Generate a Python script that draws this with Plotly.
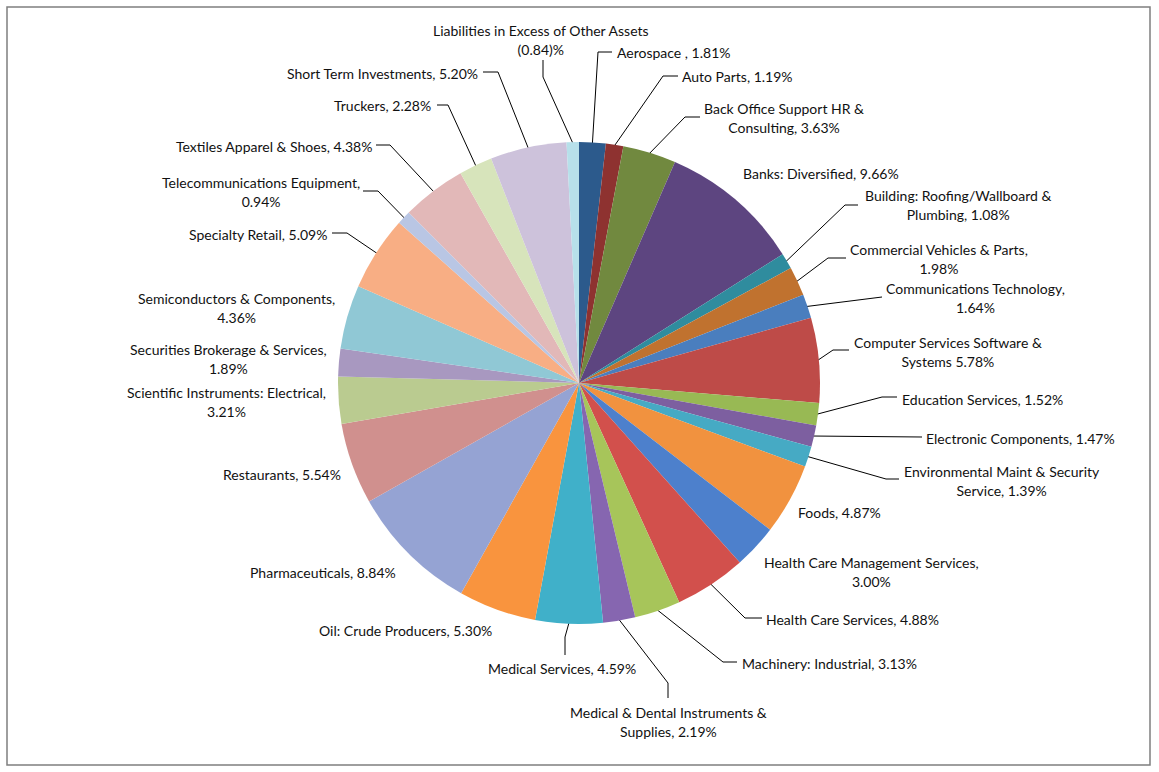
import plotly.graph_objects as go
import math

# ---------------- data ----------------
categories = [
    "Aerospace", "Auto Parts", "Back Office Support HR & Consulting", "Banks: Diversified",
    "Building: Roofing/Wallboard & Plumbing", "Commercial Vehicles & Parts", "Communications Technology",
    "Computer Services Software & Systems", "Education Services", "Electronic Components",
    "Environmental Maint & Security Service", "Foods", "Health Care Management Services",
    "Health Care Services", "Machinery: Industrial", "Medical & Dental Instruments & Supplies",
    "Medical Services", "Oil: Crude Producers", "Pharmaceuticals", "Restaurants",
    "Scientific Instruments: Electrical", "Securities Brokerage & Services", "Semiconductors & Components",
    "Specialty Retail", "Telecommunications Equipment", "Textiles Apparel & Shoes", "Truckers",
    "Short Term Investments", "Liabilities in Excess of Other Assets",
]
values = [1.81, 1.19, 3.63, 9.66, 1.08, 1.98, 1.64, 5.78, 1.52, 1.47, 1.39, 4.87, 3.00, 4.88,
          3.13, 2.19, 4.59, 5.30, 8.84, 5.54, 3.21, 1.89, 4.36, 5.09, 0.94, 4.38, 2.28, 5.20, -0.84]

# label text templates ({} -> formatted value), "\n" = line break
label_templates = [
    "Aerospace , {}", "Auto Parts, {}", "Back Office Support HR &\nConsulting, {}", "Banks: Diversified, {}",
    "Building: Roofing/Wallboard &\nPlumbing, {}", "Commercial Vehicles & Parts,\n{}",
    "Communications Technology,\n{}", "Computer Services Software &\nSystems {}", "Education Services, {}",
    "Electronic Components, {}", "Environmental Maint & Security\nService, {}", "Foods, {}",
    "Health Care Management Services,\n{}", "Health Care Services, {}", "Machinery: Industrial, {}",
    "Medical & Dental Instruments &\nSupplies, {}", "Medical Services, {}", "Oil: Crude Producers, {}",
    "Pharmaceuticals, {}", "Restaurants, {}", "Scientific Instruments: Electrical,\n{}",
    "Securities Brokerage & Services,\n{}", "Semiconductors & Components,\n{}", "Specialty Retail, {}",
    "Telecommunications Equipment,\n{}", "Textiles Apparel & Shoes, {}", "Truckers, {}",
    "Short Term Investments, {}", "Liabilities in Excess of Other Assets\n{}",
]

# ---------------- styles / layout ----------------
colors = [
    "#2C5A8C", "#8E3230", "#71893F", "#5D4580", "#2F8C9E", "#C0722F", "#4A7EBE", "#BE4B48",
    "#98B954", "#7D5FA0", "#46AAC4", "#F1923F", "#4D80CC", "#D2504C", "#A7C55A", "#8666B0",
    "#40B0C9", "#F9943E", "#95A3D3", "#D0908E", "#BACB90", "#A898C0", "#90C8D5", "#F8AE84",
    "#B9C6E4", "#E2B8B8", "#D7E4BB", "#CDC2DB", "#B7E0EA",
]

W, H = 1159, 772
CX, CY, R = 579, 383, 241

# label anchor: (x, y of first line centre, horizontal anchor)
label_pos = [
    (615, 52, "left"), (680, 76, "left"), (702, 108, "left"), (741, 173, "left"),
    (863, 195, "left"), (848, 249, "left"), (884, 288, "left"), (852, 342, "left"),
    (900, 399, "left"), (924, 438, "left"), (902, 471, "left"), (796, 512, "left"),
    (762, 562, "left"), (764, 619, "left"), (740, 663, "left"), (668, 712, "center"),
    (638, 668, "right"), (405, 630, "center"), (323, 572, "center"), (282, 474, "center"),
    (328, 392, "right"), (329, 349, "right"), (337, 298, "right"), (329, 234, "right"),
    (362, 182, "right"), (374, 146, "right"), (433, 105, "right"), (480, 73, "right"),
    (541, 30, "center"),
]
# leader line elbow and end points (None = no leader line)
leader_pts = [
    ((598, 52), (612, 52)), ((663, 76), (678, 76)), ((685, 117), (700, 117)), None,
    ((845, 205), (858, 205)), ((828, 258), (846, 258)), ((879, 297), (882, 297)),
    ((833, 350), (849, 350)), ((882, 397), (897, 397)), ((895, 437), (922, 437)),
    ((886, 479), (899, 479)), None, None, ((745, 618), (762, 618)), ((723, 662), (737, 662)),
    ((668, 683), (668, 698)), ((565, 637), (565, 655)), None, None, None, None, None, None,
    ((347, 233), (332, 233)), ((378, 191), (363, 191)), ((390, 145), (376, 145)),
    ((448, 105), (437, 105)), ((498, 72), (483, 72)), ((543, 77), (543, 60)),
]
FONT_SIZE = 14
LINE_GAP = 20                     # wanted distance between lines
PLOTLY_GAP = 1.3 * FONT_SIZE      # plotly's own line spacing
FONT = dict(family="Lato, 'Noto Sans', sans-serif", size=FONT_SIZE, color="#111111")
HIDE = '<span style="color:rgba(0,0,0,0)">{}</span>'


def fmt(v):
    return f"({abs(v):.2f})%" if v < 0 else f"{v:.2f}%"


abs_vals = [abs(v) for v in values]
total = sum(abs_vals)

fig = go.Figure()

fig.add_trace(go.Pie(
    labels=categories, values=abs_vals, sort=False, direction="clockwise", rotation=0,
    marker=dict(colors=colors, line=dict(width=0)), textinfo="none", hoverinfo="label+percent",
    showlegend=False,
    domain=dict(x=[(CX - R) / W, (CX + R) / W], y=[(H - CY - R) / H, (H - CY + R) / H]),
))

# leader lines from slice mid-angle to labels
lx, ly = [], []
cum = 0.0
for v, lp in zip(abs_vals, leader_pts):
    mid = (cum + v / 2) / total * 2 * math.pi
    cum += v
    if lp is None:
        continue
    sx = CX + (R - 1) * math.sin(mid)
    sy = CY - (R - 1) * math.cos(mid)
    (ex, ey), (tx, ty) = lp
    lx += [sx, ex, tx, None]
    ly += [sy, ey, ty, None]

fig.add_trace(go.Scatter(x=lx, y=ly, mode="lines", line=dict(color="black", width=1),
                         hoverinfo="skip", showlegend=False))

annotations = []
for tmpl, v, (x, y, anc) in zip(label_templates, values, label_pos):
    lines = tmpl.format(fmt(v)).split("\n")
    if len(lines) == 1:
        annotations.append(dict(x=x, y=y, xref="x", yref="y", text=lines[0], showarrow=False,
                                xanchor=anc, yanchor="middle", align="center", font=FONT))
    else:
        # two identical boxes (so both lines are centred on the same block);
        # first shows line 1, second shows line 2 shifted to get the wanted spacing
        yc = y + PLOTLY_GAP / 2
        t1 = lines[0] + "<br>" + HIDE.format(lines[1])
        t2 = HIDE.format(lines[0]) + "<br>" + lines[1]
        annotations.append(dict(x=x, y=yc, xref="x", yref="y", text=t1, showarrow=False,
                                xanchor=anc, yanchor="middle", align="center", font=FONT))
        annotations.append(dict(x=x, y=yc + (LINE_GAP - PLOTLY_GAP), xref="x", yref="y", text=t2,
                                showarrow=False, xanchor=anc, yanchor="middle", align="center", font=FONT))

fig.update_layout(
    width=W, height=H, margin=dict(l=0, r=0, t=0, b=0),
    paper_bgcolor="white", plot_bgcolor="rgba(0,0,0,0)",
    xaxis=dict(range=[0, W], visible=False, fixedrange=True),
    yaxis=dict(range=[H, 0], visible=False, fixedrange=True),
    annotations=annotations,
    shapes=[dict(type="rect", xref="x", yref="y", x0=7, y0=7, x1=1150, y1=765,
                 line=dict(color="#7F7F7F", width=1.5), fillcolor="rgba(0,0,0,0)", layer="below")],
)

fig.write_html("out.html")
